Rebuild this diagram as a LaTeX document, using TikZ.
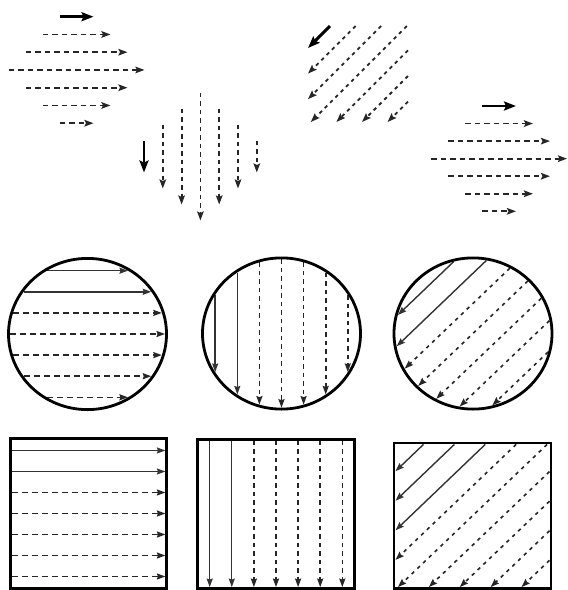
\documentclass[tikz,border=0pt]{standalone}
\usetikzlibrary{arrows.meta}
\begin{document}
\begin{tikzpicture}[x=1pt,y=-1pt,
  thickarr/.style={line width=2.9pt,black,-{Stealth[length=12pt,width=9pt,inset=2pt]}},
  topdash/.style={line width=1.8pt,black!85,dash pattern=on 5.5pt off 4pt,-{Stealth[length=9pt,width=6.5pt,inset=1.5pt]}},
  topvdash/.style={line width=1.8pt,black!85,dash pattern=on 4.5pt off 4pt,-{Stealth[length=9pt,width=6.5pt,inset=1.5pt]}},
  topddash/.style={line width=1.8pt,black!85,dash pattern=on 3.5pt off 4pt,-{Stealth[length=9pt,width=6.5pt,inset=1.5pt]}},
  outline/.style={line width=2.8pt,black},
  csolid/.style={line width=1.4pt,black!80,-{Stealth[length=8.5pt,width=6pt,inset=1pt]}},
  chdash/.style={line width=1.6pt,black!85,dash pattern=on 6pt off 4pt,-{Stealth[length=8.5pt,width=6pt,inset=1pt]}},
  cvdash/.style={line width=1.6pt,black!85,dash pattern=on 4.5pt off 4pt,-{Stealth[length=8.5pt,width=6pt,inset=1pt]}},
  cddash/.style={line width=1.6pt,black!85,dash pattern=on 3.5pt off 4.5pt,-{Stealth[length=8.5pt,width=6pt,inset=1pt]}}
]
\useasboundingbox (0,0) rectangle (568,590);

% ---------- top-left horizontal diamond ----------
\foreach \k in {0,...,6} {
  \pgfmathsetmacro{\yy}{16.7+17.75*\k}
  \pgfmathsetmacro{\L}{17*(4-abs(\k-3))}
  \ifnum\k=0 \def\sty{thickarr}\else\def\sty{topdash}\fi
  \draw[\sty] ({76.5-\L},\yy) -- ({76.5+\L},\yy);
}

% ---------- vertical diamond ----------
\foreach \k in {0,...,6} {
  \pgfmathsetmacro{\xx}{144+18.8*\k}
  \pgfmathsetmacro{\L}{16*(4-abs(\k-3))}
  \ifnum\k=0 \def\sty{thickarr}\else\def\sty{topvdash}\fi
  \draw[\sty] (\xx,{156.5-\L}) -- (\xx,{156.5+\L});
}

% ---------- diagonal group (square envelope) ----------
\foreach \k in {0,...,6} {
  \pgfmathsetmacro{\c}{356+25.6*\k}
  \pgfmathsetmacro{\ux}{min(408,\c-26)}
  \pgfmathsetmacro{\uy}{\c-\ux}
  \pgfmathsetmacro{\lx}{max(308,\c-122)}
  \pgfmathsetmacro{\ly}{\c-\lx}
  \ifnum\k=0 \def\sty{thickarr}\else\def\sty{topddash}\fi
  \draw[\sty] (\ux,\uy) -- (\lx,\ly);
}

% ---------- right horizontal diamond ----------
\foreach \k in {0,...,6} {
  \pgfmathsetmacro{\yy}{106+17.55*\k}
  \pgfmathsetmacro{\L}{17*(4-abs(\k-3))}
  \ifnum\k=0 \def\sty{thickarr}\else\def\sty{topdash}\fi
  \draw[\sty] ({499-\L},\yy) -- ({499+\L},\yy);
}

% ---------- circle 1 : horizontal ----------
\begin{scope}[shift={(87.5,334)},xscale=1.045]
  \foreach \k in {-3,...,3} {
    \pgfmathsetmacro{\d}{\k*21.1}
    \pgfmathsetmacro{\h}{sqrt(74.2*74.2-\d*\d)}
    \ifnum\k<-1 \def\sty{csolid}\else\def\sty{chdash}\fi
    \draw[\sty] (-\h,\d) -- (\h,\d);
  }
  \draw[outline] (0,0) circle (75.6);
\end{scope}

% ---------- circle 2 : vertical ----------
\begin{scope}[shift={(281.5,333.5)},xscale=1.045]
  \foreach \k in {-3,...,3} {
    \pgfmathsetmacro{\d}{\k*21.15}
    \pgfmathsetmacro{\h}{sqrt(74.2*74.2-\d*\d)}
    \ifnum\k<-1 \def\sty{csolid}\else\def\sty{cvdash}\fi
    \draw[\sty] (\d,-\h) -- (\d,\h);
  }
  \draw[outline] (0,0) circle (75.6);
\end{scope}

% ---------- circle 3 : diagonal ----------
\begin{scope}[shift={(473,333.5)},xscale=1.045]
  \foreach \k in {-3,...,3} {
    \pgfmathsetmacro{\d}{\k*21.3}
    \pgfmathsetmacro{\h}{sqrt(74.2*74.2-\d*\d)}
    \pgfmathsetmacro{\ax}{(\d+\h)/sqrt(2)}
    \pgfmathsetmacro{\ay}{(\d-\h)/sqrt(2)}
    \ifnum\k<-1 \def\sty{csolid}\else\def\sty{cddash}\fi
    \draw[\sty] (\ax,\ay) -- (\ay,\ax);
  }
  \draw[outline] (0,0) circle (75.6);
\end{scope}

% ---------- square 1 : horizontal ----------
\begin{scope}[shift={(88.5,513.5)},xscale=1.045]
  \foreach \k in {-3,...,3} {
    \pgfmathsetmacro{\d}{\k*21}
    \ifnum\k<-1 \def\sty{csolid}\else\def\sty{chdash}\fi
    \draw[\sty] (-73.6,\d) -- (73.6,\d);
  }
  \draw[outline] (-75,-75) rectangle (75,75);
\end{scope}

% ---------- square 2 : vertical ----------
\begin{scope}[shift={(276,514)},xscale=1.045]
  \foreach \k in {-3,...,3} {
    \pgfmathsetmacro{\d}{\k*21.15}
    \ifnum\k<-1 \def\sty{csolid}\else\def\sty{cvdash}\fi
    \draw[\sty] (\d,-73.1) -- (\d,73.1);
  }
  \draw[outline] (-75.5,-74.5) rectangle (75.5,74.5);
\end{scope}

% ---------- square 3 : diagonal ----------
\begin{scope}[shift={(472.5,515.75)},xscale=1.045]
  \foreach \k in {-4,...,4} {
    \pgfmathsetmacro{\c}{\k*29.56}
    \pgfmathsetmacro{\ux}{min(73.7,\c+71.35)}
    \pgfmathsetmacro{\uy}{\c-\ux}
    \pgfmathsetmacro{\lx}{max(-73.7,\c-71.35)}
    \pgfmathsetmacro{\ly}{\c-\lx}
    \ifnum\k<-1 \def\sty{csolid}\else\def\sty{cddash}\fi
    \draw[\sty] (\ux,\uy) -- (\lx,\ly);
  }
  \draw[outline] (-75.1,-72.75) rectangle (75.1,72.75);
\end{scope}
\end{tikzpicture}
\end{document}
